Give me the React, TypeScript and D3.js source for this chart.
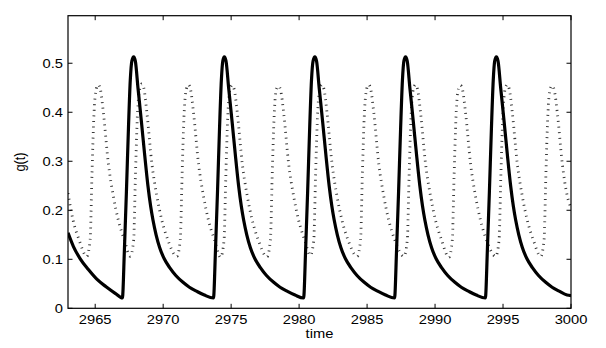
import React from "react";
import * as d3 from "d3";

const xDomain = [2963, 3000];
const yDomain = [0, 0.597];
const xTicks = [2965, 2970, 2975, 2980, 2985, 2990, 2995, 3000];
const yTicks = [0, 0.1, 0.2, 0.3, 0.4, 0.5];
const yTickLabels = ["0", "0.1", "0.2", "0.3", "0.4", "0.5"];
const xLabel = "time";
const yLabel = "g(t)";

// solid series g(t)
const solidT = [
  2963.0, 2963.4, 2963.9, 2964.5, 2965.1, 2965.8, 2966.5, 2967.0,
  2967.15, 2967.3, 2967.45, 2967.58, 2967.7, 2967.83,
  2967.95, 2968.15, 2968.4, 2968.64, 2968.88, 2969.08, 2969.25, 2969.48, 2969.74, 2970.08, 2970.48, 2970.93, 2971.46, 2971.93, 2972.45, 2973.03, 2973.7,
  2973.85, 2974.0, 2974.15, 2974.28, 2974.39, 2974.5,
  2974.62, 2974.82, 2975.07, 2975.31, 2975.55, 2975.75, 2975.92, 2976.15, 2976.41, 2976.75, 2977.15, 2977.6, 2978.13, 2978.6, 2979.12, 2979.7, 2980.33,
  2980.48, 2980.63, 2980.78, 2980.91, 2981.03, 2981.16,
  2981.28, 2981.48, 2981.73, 2981.97, 2982.21, 2982.41, 2982.58, 2982.81, 2983.07, 2983.41, 2983.81, 2984.26, 2984.79, 2985.26, 2985.78, 2986.36, 2987.02,
  2987.17, 2987.32, 2987.47, 2987.6, 2987.71, 2987.83,
  2987.95, 2988.15, 2988.4, 2988.64, 2988.88, 2989.08, 2989.25, 2989.48, 2989.74, 2990.08, 2990.48, 2990.93, 2991.46, 2991.93, 2992.45, 2993.03, 2993.7,
  2993.85, 2994.0, 2994.15, 2994.28, 2994.39, 2994.51,
  2994.63, 2994.83, 2995.08, 2995.32, 2995.56, 2995.76, 2995.93, 2996.16, 2996.42, 2996.76, 2997.16, 2997.61, 2998.14, 2998.61, 2999.13, 2999.71, 3000.0,
];
const solidG = [
  0.154, 0.126, 0.101, 0.079, 0.06, 0.044, 0.03, 0.021,
  0.12, 0.24, 0.37, 0.465, 0.505, 0.513,
  0.505, 0.449, 0.381, 0.313, 0.25, 0.208, 0.18, 0.15, 0.124, 0.101, 0.083, 0.067, 0.053, 0.043, 0.035, 0.027, 0.021,
  0.12, 0.24, 0.37, 0.465, 0.505, 0.513,
  0.505, 0.449, 0.381, 0.313, 0.25, 0.208, 0.18, 0.15, 0.124, 0.101, 0.083, 0.067, 0.053, 0.043, 0.035, 0.027, 0.021,
  0.12, 0.24, 0.37, 0.465, 0.505, 0.513,
  0.505, 0.449, 0.381, 0.313, 0.25, 0.208, 0.18, 0.15, 0.124, 0.101, 0.083, 0.067, 0.053, 0.043, 0.035, 0.027, 0.021,
  0.12, 0.24, 0.37, 0.465, 0.505, 0.513,
  0.505, 0.449, 0.381, 0.313, 0.25, 0.208, 0.18, 0.15, 0.124, 0.101, 0.083, 0.067, 0.053, 0.043, 0.035, 0.027, 0.021,
  0.12, 0.24, 0.37, 0.465, 0.505, 0.513,
  0.505, 0.449, 0.381, 0.313, 0.25, 0.208, 0.18, 0.15, 0.124, 0.101, 0.083, 0.067, 0.053, 0.043, 0.035, 0.027, 0.026,
];

// dotted series
const dottedT = [
  2963.0, 2963.37, 2963.81,
  2964.38, 2964.63, 2964.76, 2964.9, 2965.08, 2965.23, 2965.38, 2965.6, 2965.97, 2966.33, 2966.7, 2967.14,
  2967.58, 2967.83, 2967.96, 2968.1, 2968.28, 2968.43, 2968.58, 2968.8, 2969.17, 2969.53, 2969.9, 2970.34,
  2971.01, 2971.26, 2971.39, 2971.53, 2971.71, 2971.86, 2972.01, 2972.23, 2972.6, 2972.96, 2973.33, 2973.77,
  2974.23, 2974.48, 2974.61, 2974.75, 2974.93, 2975.08, 2975.23, 2975.45, 2975.82, 2976.18, 2976.55, 2976.99,
  2977.64, 2977.89, 2978.02, 2978.16, 2978.34, 2978.49, 2978.64, 2978.86, 2979.23, 2979.59, 2979.96, 2980.4,
  2980.83, 2981.08, 2981.21, 2981.35, 2981.53, 2981.68, 2981.83, 2982.05, 2982.42, 2982.78, 2983.15, 2983.59,
  2984.27, 2984.52, 2984.65, 2984.79, 2984.97, 2985.12, 2985.27, 2985.49, 2985.86, 2986.22, 2986.59, 2987.03,
  2987.71, 2987.96, 2988.09, 2988.23, 2988.41, 2988.56, 2988.71, 2988.93, 2989.3, 2989.66, 2990.03, 2990.47,
  2991.02, 2991.27, 2991.4, 2991.54, 2991.72, 2991.87, 2992.02, 2992.24, 2992.61, 2992.97, 2993.34, 2993.78,
  2994.46, 2994.71, 2994.84, 2994.98, 2995.16, 2995.31, 2995.46, 2995.68, 2996.05, 2996.41, 2996.78, 2997.22,
  2997.77, 2998.02, 2998.15, 2998.29, 2998.47, 2998.62, 2998.77, 2998.99, 2999.36, 2999.72, 3000.0,
];
const dottedG = [
  0.235, 0.18, 0.14,
  0.106, 0.14, 0.27, 0.39, 0.448, 0.456, 0.447, 0.4, 0.295, 0.23, 0.18, 0.14,
  0.106, 0.14, 0.27, 0.39, 0.448, 0.458, 0.449, 0.4, 0.295, 0.23, 0.18, 0.14,
  0.106, 0.14, 0.27, 0.39, 0.448, 0.456, 0.447, 0.4, 0.295, 0.23, 0.18, 0.14,
  0.104, 0.14, 0.27, 0.39, 0.448, 0.455, 0.446, 0.4, 0.295, 0.23, 0.18, 0.14,
  0.105, 0.14, 0.27, 0.39, 0.448, 0.453, 0.445, 0.4, 0.295, 0.23, 0.18, 0.14,
  0.108, 0.14, 0.27, 0.39, 0.448, 0.456, 0.447, 0.4, 0.295, 0.23, 0.18, 0.14,
  0.106, 0.14, 0.27, 0.39, 0.448, 0.456, 0.447, 0.4, 0.295, 0.23, 0.18, 0.14,
  0.106, 0.14, 0.27, 0.39, 0.448, 0.456, 0.447, 0.4, 0.295, 0.23, 0.18, 0.14,
  0.104, 0.14, 0.27, 0.39, 0.448, 0.455, 0.446, 0.4, 0.295, 0.23, 0.18, 0.14,
  0.106, 0.14, 0.27, 0.39, 0.448, 0.456, 0.447, 0.4, 0.295, 0.23, 0.18, 0.14,
  0.106, 0.14, 0.27, 0.39, 0.448, 0.454, 0.445, 0.4, 0.295, 0.23, 0.205,
];

const W = 606;
const H = 348;
const M = { left: 68, right: 35, top: 15.7, bottom: 39.7 };
const FONT = "'Liberation Sans', Arial, Helvetica, sans-serif";
const SX = 1.15;

export default function App() {
  const x = d3.scaleLinear().domain(xDomain).range([M.left, W - M.right]);
  const y = d3.scaleLinear().domain(yDomain).range([H - M.bottom, M.top]);
  const x0 = M.left, x1 = W - M.right, y0 = H - M.bottom, y1 = M.top;

  const line = d3
    .line<[number, number]>()
    .x((d) => x(d[0]))
    .y((d) => y(d[1]))
    .curve(d3.curveMonotoneX);

  const solid = solidT.map((t, i) => [t, solidG[i]] as [number, number]);
  const dotted = dottedT.map((t, i) => [t, dottedG[i]] as [number, number]);
  const tl = 4.5;

  return (
    <svg
      width={W}
      height={H}
      style={{ position: "absolute", left: 0, top: 0, background: "#fff" }}
      fontFamily={FONT}
    >
      <defs>
        <clipPath id="plot">
          <rect x={x0} y={y1} width={x1 - x0} height={y0 - y1} />
        </clipPath>
      </defs>
      <rect x={0} y={0} width={W} height={H} fill="#fff" />
      <g clipPath="url(#plot)">
        <path
          d={line(dotted) || ""}
          fill="none"
          stroke="#383838"
          strokeWidth={2.8}
          strokeDasharray="1 4.6"
        />
        <path d={line(solid) || ""} fill="none" stroke="#000" strokeWidth={3.2} strokeLinejoin="round" />
      </g>
      <rect x={x0} y={y1} width={x1 - x0} height={y0 - y1} fill="none" stroke="#000" strokeWidth={1.2} />
      {xTicks.map((t) => (
        <g key={"x" + t}>
          <line x1={x(t)} x2={x(t)} y1={y0} y2={y0 - tl} stroke="#000" strokeWidth={1} />
          <line x1={x(t)} x2={x(t)} y1={y1} y2={y1 + tl} stroke="#000" strokeWidth={1} />
          <text
            transform={`translate(${x(t)},${y0 + 16}) scale(${SX},1)`}
            textAnchor="middle"
            fontSize={12.8}
            fill="#000"
          >
            {t}
          </text>
        </g>
      ))}
      {yTicks.map((v, i) => (
        <g key={"y" + v}>
          <line x1={x0} x2={x0 + tl} y1={y(v)} y2={y(v)} stroke="#000" strokeWidth={1} />
          <line x1={x1} x2={x1 - tl} y1={y(v)} y2={y(v)} stroke="#000" strokeWidth={1} />
          <text
            transform={`translate(${x0 - 5},${y(v) + 5}) scale(${SX},1)`}
            textAnchor="end"
            fontSize={12.8}
            fill="#000"
          >
            {yTickLabels[i]}
          </text>
        </g>
      ))}
      <text
        transform={`translate(${(x0 + x1) / 2},${337.5}) scale(${SX},1)`}
        textAnchor="middle"
        fontSize={12.8}
        fill="#000"
      >
        {xLabel}
      </text>
      <text
        transform={`translate(25,${(y0 + y1) / 2}) scale(${SX},1) rotate(-90)`}
        textAnchor="middle"
        fontSize={12.8}
        fill="#000"
      >
        {yLabel}
      </text>
    </svg>
  );
}
